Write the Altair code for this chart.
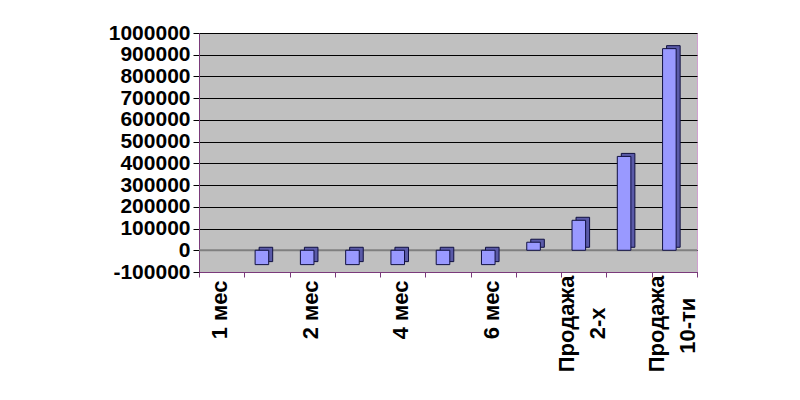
import altair as alt
import pandas as pd

categories = ["1 мес", "1,5 мес", "2 мес", "3 мес", "4 мес", "5 мес", "6 мес",
              "Продажа 1-го", "Продажа 2-х", "Продажа 5-ти", "Продажа 10-ти"]
values = [None, -66000, -66000, -66000, -66000, -66000, -66000,
          37000, 138000, 432000, 928000]
y_ticks = [-100000, 0, 100000, 200000, 300000, 400000, 500000,
           600000, 700000, 800000, 900000, 1000000]

BL = "\u2800"
NB = "\u00a0"
single_expr = (
    "datum.value == '1 мес' ? '1 мес' : "
    "datum.value == '2 мес' ? '2 мес' : "
    "datum.value == '4 мес' ? '4 мес' : "
    "datum.value == '6 мес' ? '6 мес' : ''"
)
double_expr = (
    f"datum.value == 'Продажа 2-х' ? ['Продажа', '2-х{BL*2}'] : "
    f"datum.value == 'Продажа 10-ти' ? ['Продажа', '10-ти{NB}{BL}'] : ''"
)

df = pd.DataFrame({"cat": categories, "val": values})
y_scale = alt.Scale(domain=[-100000, 1000000], nice=False)
x_scale = alt.Scale(paddingInner=0, paddingOuter=0)
y_axis = alt.Axis(values=y_ticks, labelExpr="'' + datum.value",
                  tickSize=6, tickColor="black", domainColor="#7a3a7a",
                  labelFontSize=21, labelFontWeight="bold", labelColor="black",
                  labelFont="Liberation Sans", labelPadding=3,
                  gridColor="black", gridWidth=1, labelOverlap=False)

lab_style = dict(labelAngle=270, labelFontSize=22, labelFontWeight="bold",
                 labelColor="black", labelFont="Liberation Sans", labelPadding=3,
                 labelLineHeight=31, labelOverlap=False, grid=False, orient="bottom")

x_main = alt.X("cat:N", sort=categories, title=None, scale=x_scale,
               axis=alt.Axis(labelExpr=single_expr, tickBand="extent", tickSize=5,
                             tickColor="#7a3a7a", domainColor="#7a3a7a",
                             labelOffset=-2, **lab_style))
x_two = alt.X("cat:N", sort=categories, title=None, scale=x_scale,
              axis=alt.Axis(labelExpr=double_expr, ticks=False, domain=False,
                            labelOffset=-17, **lab_style))
y_enc = alt.Y("val:Q", title=None, scale=y_scale, axis=y_axis)

base = alt.Chart(df)

depth = base.mark_bar(width={"band": 0.3}, xOffset=-1, yOffset=-3,
                      color="#5a5aa8", stroke="#101040", strokeWidth=1).encode(
    x=x_two, y=y_enc)
front = base.mark_bar(width={"band": 0.3}, xOffset=-5,
                      color="#9999ff", stroke="#101040", strokeWidth=1).encode(
    x=x_main, y=y_enc)
zero = alt.Chart(pd.DataFrame({"z": [0]})).mark_rule(color="#808080", strokeWidth=2).encode(
    y=alt.Y("z:Q", title=None, scale=y_scale, axis=y_axis))

chart = alt.layer(zero, depth, front).resolve_axis(x="independent").properties(
    width=498, height=239,
    autosize=alt.AutoSizeParams(type="none"),
    padding={"left": 191, "top": 25, "right": 90, "bottom": 120},
    background="white",
).configure_view(fill="#c0c0c0", stroke="#d0a0d0", strokeWidth=1
).configure_axis(labelOverlap=False)

chart.save("out.html", embed_options={"renderer": "svg", "actions": False})
